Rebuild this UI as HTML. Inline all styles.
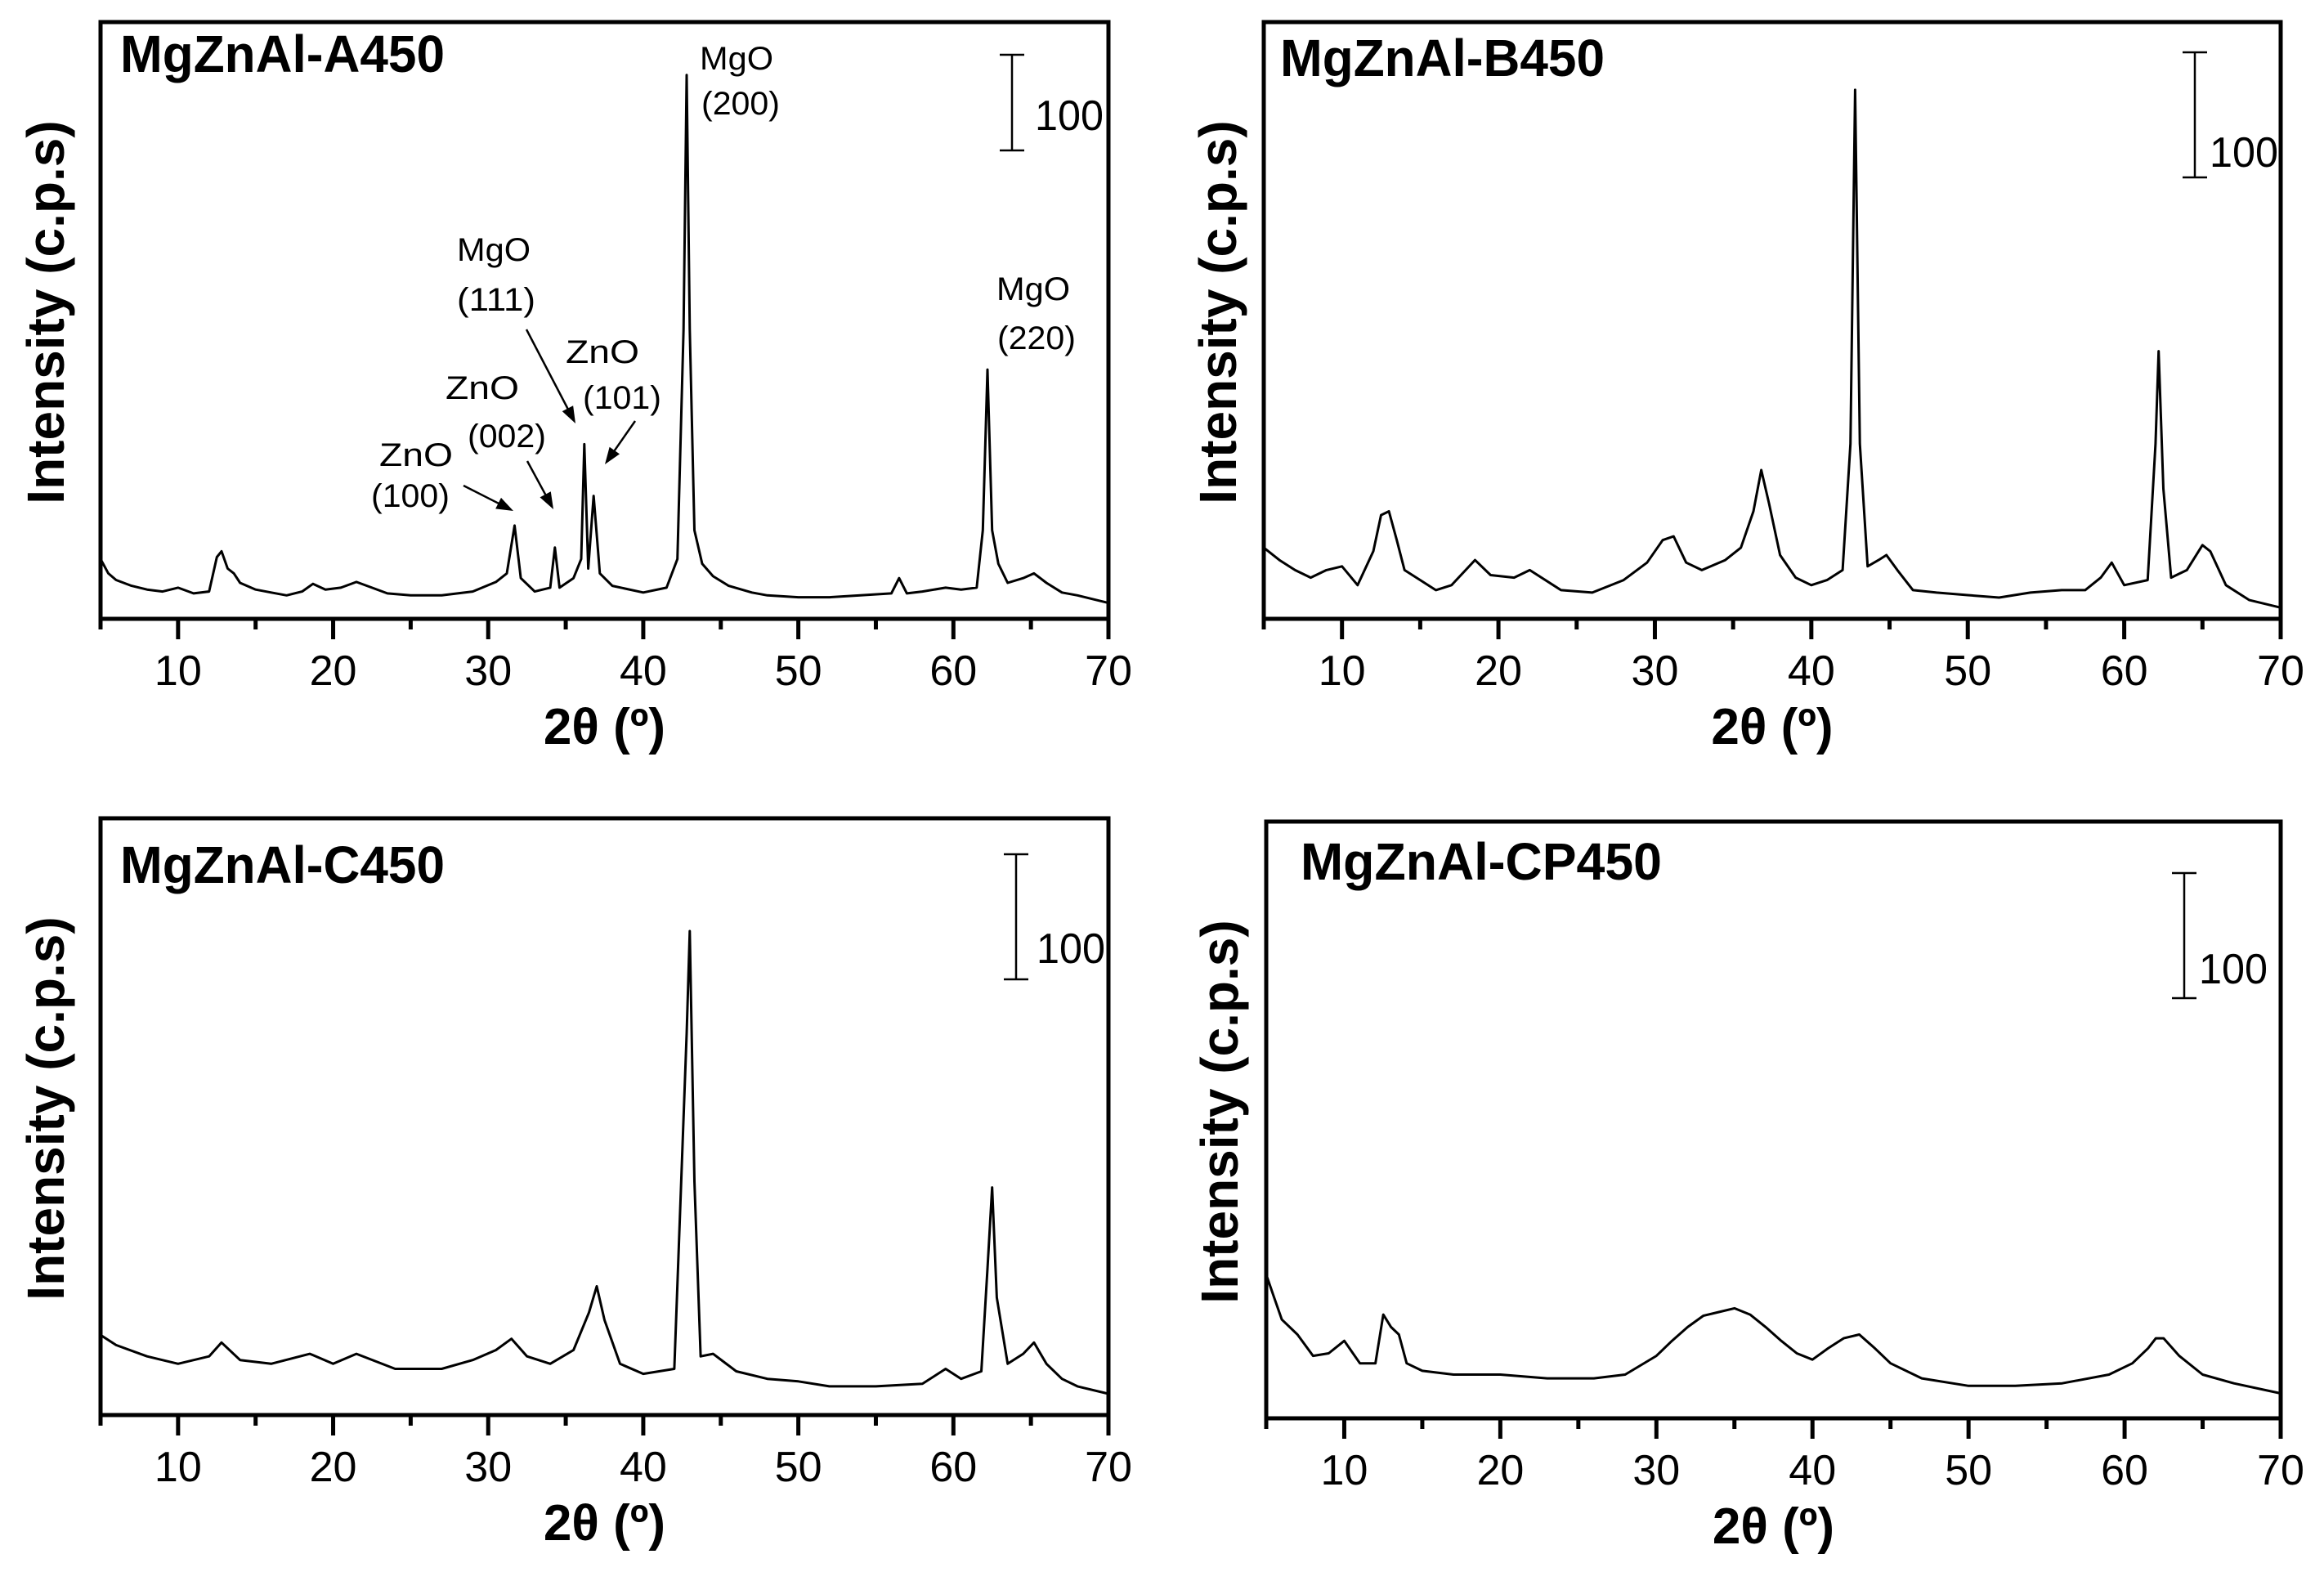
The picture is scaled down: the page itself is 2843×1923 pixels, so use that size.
<!DOCTYPE html>
<html><head><meta charset="utf-8">
<style>
html,body{margin:0;padding:0;background:#fff;}
svg{display:block;}
text{font-family:"Liberation Sans",Arial,sans-serif;fill:#000;}
</style></head>
<body>
<svg id="fig" width="2843" height="1923" viewBox="0 0 2843 1923" xmlns="http://www.w3.org/2000/svg"></svg>
<script>
// ---- data (2θ in degrees, intensity in c.p.s above the axis baseline) ----
const xA = [5,5.5,6,7,8,9,10,11,12,12.5,12.8,13.2,13.6,14,15,16,17,18,18.7,19.5,20.5,21.5,22.5,23.5,25,27,29,30.5,31.2,31.7,32.1,33,34,34.3,34.6,35.5,36,36.2,36.45,36.8,37.2,38,40,41.5,42.2,42.6,42.8,43.0,43.3,43.8,44.5,45.5,47,48,50,52,54,56,56.5,57,58,59.5,60.5,61.5,61.9,62.2,62.5,62.9,63.5,64.5,65.2,66,67,68,69,70];
const yA = [60,45,38,32,28,26,30,24,26,62,68,50,45,35,28,25,22,26,34,28,30,36,30,24,22,22,26,36,45,95,40,26,30,72,30,40,60,180,50,126,45,32,25,30,60,300,566,300,90,55,42,32,25,22,20,20,22,24,40,24,26,30,28,30,90,258,90,55,35,40,45,35,25,22,18,14];

const xB = [5,6,7,8,9,10,11,12,12.5,13,13.5,14,15,16,17,18.5,19.5,21,22,24,26,28,29.5,30.5,31.2,32,33,34.5,35.5,36.3,36.8,37.3,38,39,40,41,42,42.5,42.8,43.1,43.6,44.3,44.8,45.5,46.5,48,50,52,54,56,57.5,58.5,59.2,60,61.5,62,62.2,62.5,63,64,65,65.5,66.5,68,70];
const yB = [55,45,37,31,37,40,25,52,81,84,61,37,29,21,25,45,33,31,37,21,19,29,43,61,64,43,37,45,55,84,117,90,49,31,25,29,37,138,421,138,40,45,49,37,21,19,17,15,19,21,21,31,43,25,29,138,212,102,31,37,57,52,25,13,7];

const xC = [5,6,8,10,12,12.8,14,16,18.5,20,21.5,24,27,29,30.5,31.5,32.5,34,35.5,36.5,37,37.5,38.5,40,42,42.8,43.0,43.3,43.7,44.5,46,48,50,52,55,58,59.5,60.5,61.8,62.2,62.5,62.8,63.5,64.5,65.2,66,67,68,70];
const yC = [62,54,45,39,45,56,42,39,47,39,47,35,35,42,50,59,45,39,50,80,101,74,39,31,35,303,385,185,45,47,33,27,25,21,21,23,35,27,33,115,180,92,39,47,56,39,27,21,15];

const xD = [5,5.5,6,7,8,9,10,11,12,12.5,13,13.5,14,15,17,20,23,26,28,30,31,32,33,34,35,36,37,38,39,40,41,42,43,44,45,47,50,53,56,59,60.5,61.5,62,62.5,63.5,65,67,70];
const yD = [113,95,77,65,48,50,60,42,42,81,71,65,42,36,33,33,30,30,33,48,60,71,80,83,86,81,71,60,50,45,54,62,65,54,42,30,24,24,26,33,42,54,62,62,48,33,26,18];

const xTicks = [5,10,15,20,25,30,35,40,45,50,55,60,65,70];
const xTickLabels = ["10","20","30","40","50","60","70"];
const xLabelValues = [10,20,30,40,50,60,70];
const scaleBarValue = [100];

// ---- panel geometry ----
const panels = [
  {id:"a", name:"MgZnAl-A450", L:123, R:1356, T:27, B:757, s:1.17, xs:xA, ys:yA, lx:147, ly:88, lw:397, bx:1238, bt:67, tx:1266, tb:159, ycx:78},
  {id:"b", name:"MgZnAl-B450", L:1546, R:2790, T:27, B:757, s:1.53, xs:xB, ys:yB, lx:1566, ly:93, lw:397, bx:2685, bt:64, tx:2703, tb:204, ycx:1512},
  {id:"c", name:"MgZnAl-C450", L:123, R:1356, T:1001, B:1731, s:1.53, xs:xC, ys:yC, lx:147, ly:1080, lw:397, bx:1243, bt:1045, tx:1268, tb:1178, ycx:78},
  {id:"d", name:"MgZnAl-CP450", L:1549, R:2790, T:1005, B:1735, s:1.53, xs:xD, ys:yD, lx:1591, ly:1076, lw:442, bx:2672, bt:1068, tx:2690, tb:1203, ycx:1514}
];

const NS = "http://www.w3.org/2000/svg";
const svg = document.getElementById("fig");
function mk(tag, attrs, parent){
  const e = document.createElementNS(NS, tag);
  for (const k in attrs) e.setAttribute(k, attrs[k]);
  (parent||svg).appendChild(e);
  return e;
}

panels.forEach(p => {
  const g = mk("g", {});
  
  
  const xScale = v => p.L + (v - 5) / 65 * (p.R - p.L);
  const yScale = v => p.B - 3 - v * p.s;

  // trace
  let d = "";
  p.xs.forEach((x,i) => { d += (i ? "L" : "M") + xScale(x).toFixed(1) + "," + yScale(p.ys[i]).toFixed(1); });
  const path = mk("path", {d:d, fill:"none", stroke:"#000", "stroke-width":3, "stroke-linejoin":"round"}, g);
  
  

  // frame
  const fr = mk("rect", {x:p.L, y:p.T, width:p.R-p.L, height:p.B-p.T, fill:"none", stroke:"#000", "stroke-width":5}, g);
  
  

  // ticks
  xTicks.forEach(t => {
    const major = t % 10 === 0;
    const tk = mk("line", {x1:xScale(t), x2:xScale(t), y1:p.B, y2:p.B + (major ? 25 : 13), stroke:"#000", "stroke-width":5}, g);
    
    
  });
  xLabelValues.forEach((v,i) => {
    const tl = mk("text", {x:xScale(v), y:p.B + 81, "font-size":52, "text-anchor":"middle"}, g);
    tl.textContent = xTickLabels[i];
    
    
  });

  // x title
  const xt = mk("text", {x:(p.L+p.R)/2, y:p.B + 153, "font-size":62, "font-weight":"bold", "text-anchor":"middle"}, g);
  xt.textContent = "2θ (º)";
  
  

  // y title
  const yc = (p.T + p.B)/2 - 10;
  const yt = mk("text", {x:p.ycx, y:yc, "font-size":64, "font-weight":"bold", "text-anchor":"middle", transform:"rotate(-90 " + p.ycx + " " + yc + ")"}, g);
  yt.textContent = "Intensity (c.p.s)";
  
  

  // sample label
  const lb = mk("text", {x:p.lx, y:p.ly, "font-size":64, "font-weight":"bold", textLength:p.lw, lengthAdjust:"spacingAndGlyphs"}, g);
  lb.textContent = p.name;
  
  

  // scale bar
  const len = scaleBarValue[0] * p.s;
  const sb = mk("path", {d:"M"+p.bx+","+p.bt+"V"+(p.bt+len)+"M"+(p.bx-15)+","+p.bt+"h30M"+(p.bx-15)+","+(p.bt+len)+"h30", stroke:"#000", "stroke-width":2.5, fill:"none"}, g);
  
  
  const sbt = mk("text", {x:p.tx, y:p.tb, "font-size":52, textLength:84, lengthAdjust:"spacingAndGlyphs"}, g);
  sbt.textContent = String(scaleBarValue[0]);
  
  
});

// ---- peak annotations (panel A) ----
const annTexts = ["MgO","(200)","MgO","(111)","ZnO","(101)","ZnO","(002)","ZnO","(100)","MgO","(220)"];
const annPos = [[856,85],[858,140],[559,319],[559,380],[692,444],[713,500],[545,488],[572,547],[464,570],[454,620],[1219,367],[1220,427]];
annTexts.forEach((t,i) => {
  const e = mk("text", {x:annPos[i][0], y:annPos[i][1], "font-size":40, textLength:(t.length===3?90:96), lengthAdjust:"spacingAndGlyphs"});
  e.textContent = t;
  
  
});
const arrows = [[644,403,704,518],[777,515,740,568],[645,564,677,623],[567,594,628,625]];
arrows.forEach(a => {
  const [x1,y1,x2,y2] = a;
  const ang = Math.atan2(y2-y1, x2-x1), L = 22, w = 0.35;
  const e = mk("line", {x1:x1, y1:y1, x2:x2 - 12*Math.cos(ang), y2:y2 - 12*Math.sin(ang), stroke:"#000", "stroke-width":2.5});
  
  
  const h = mk("polygon", {points: x2+","+y2+" "+(x2-L*Math.cos(ang-w))+","+(y2-L*Math.sin(ang-w))+" "+(x2-L*Math.cos(ang+w))+","+(y2-L*Math.sin(ang+w)), fill:"#000"});
  
  
});
</script>
</body></html>
